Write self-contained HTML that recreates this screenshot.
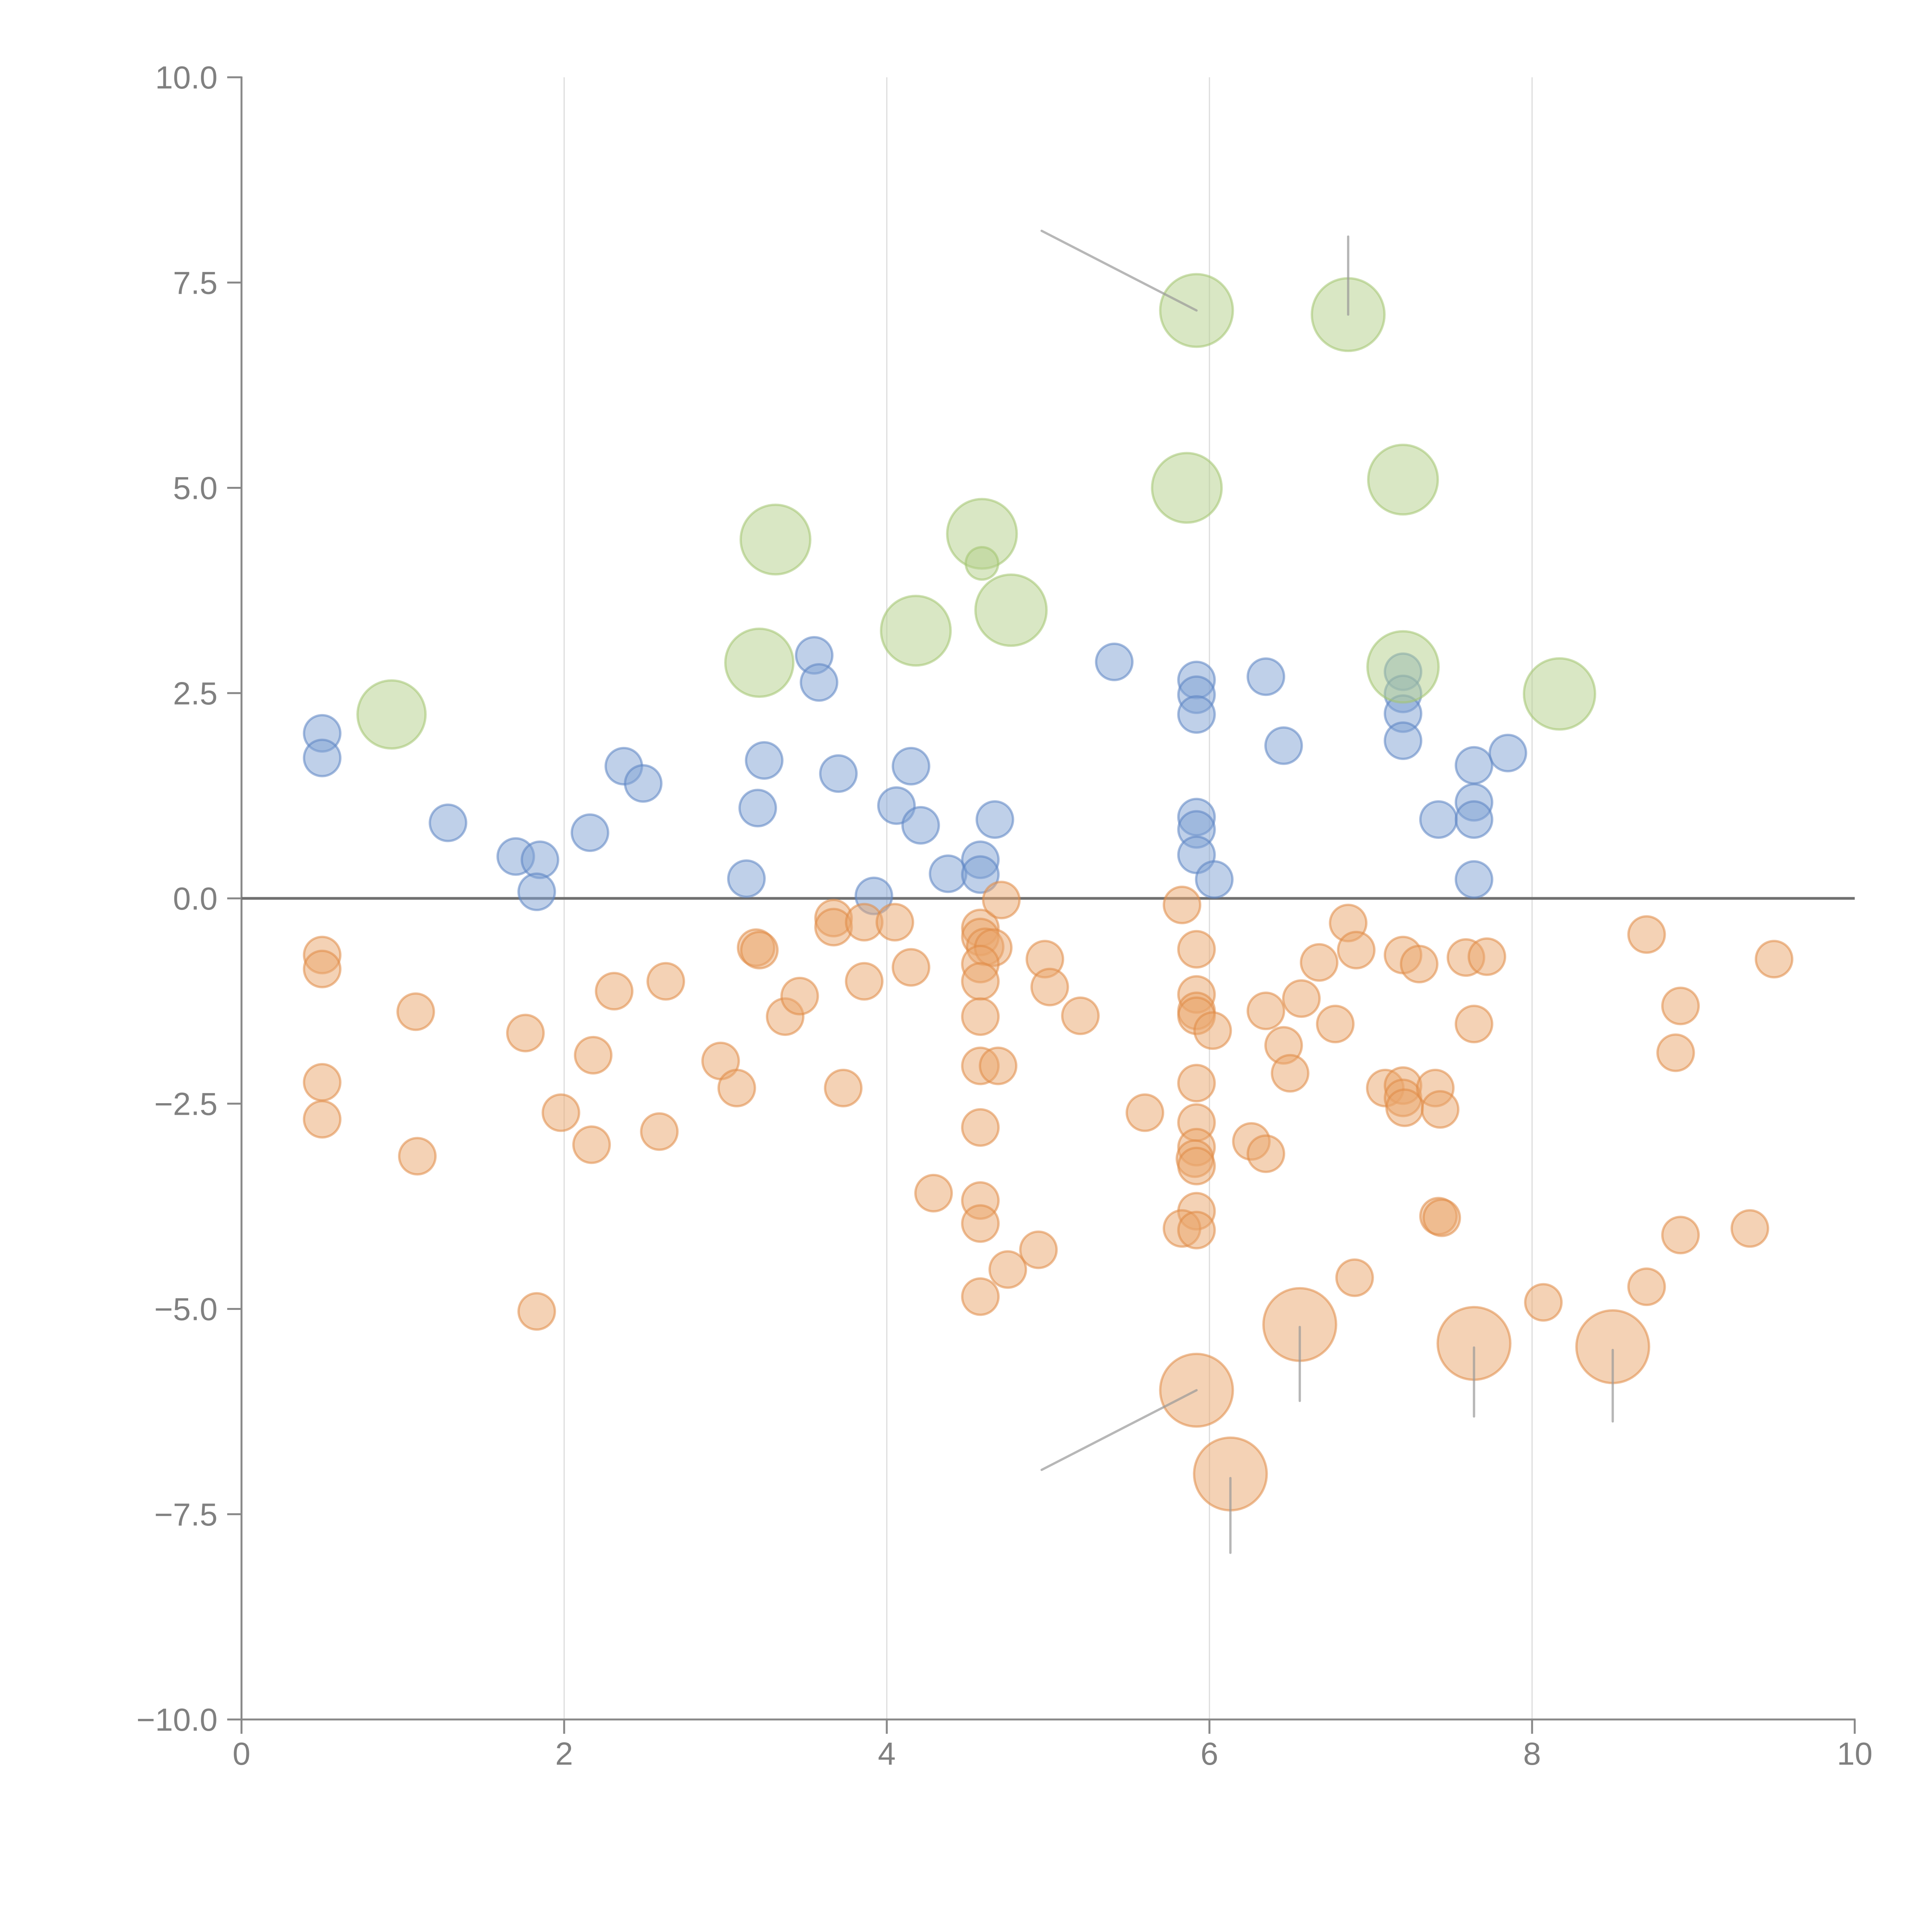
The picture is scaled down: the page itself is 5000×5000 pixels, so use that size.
<!DOCTYPE html>
<html><head><meta charset="utf-8"><style>html,body{margin:0;padding:0;background:#fff}svg{display:block}</style></head>
<body>
<svg id="chart" width="5000" height="5000" viewBox="0 0 5000 5000" xmlns="http://www.w3.org/2000/svg">
<rect width="5000" height="5000" fill="#fff"/>
<g id="grid"></g>
<g id="axes"></g>
<g id="marks"></g>
</svg>
<script>
const xTicks = [0, 2, 4, 6, 8, 10];
const yTicks = [10, 7.5, 5, 2.5, 0, -2.5, -5, -7.5, -10];
const yTickLabels = ["10.0", "7.5", "5.0", "2.5", "0.0", "\u22122.5", "\u22125.0", "\u22127.5", "\u221210.0"];

const greenX = [0.93, 3.21, 3.31, 4.18, 4.59, 4.59, 4.77, 5.92, 6.86, 5.86, 7.20, 7.20, 8.17];
const greenY = [2.24, 2.87, 4.37, 3.26, 4.44, 4.08, 3.51, 7.16, 7.11, 5.00, 5.10, 2.82, 2.49];
const greenR = [88, 88, 90, 90, 90, 42, 92, 94, 94, 90, 90, 92, 92];

const blueX = [0.50,0.50,1.28,1.70,1.85,1.83,2.16,2.37,2.49,3.13,3.20,3.24,3.55,3.58,3.70,3.92,4.06,4.15,4.21,4.38,4.58,4.58,4.67,5.41,5.92,5.92,5.92,5.92,5.92,5.92,6.03,6.35,6.46,7.20,7.20,7.20,7.20,7.42,7.64,7.64,7.64,7.64,7.85];
const blueY = [2.01,1.71,0.92,0.51,0.47,0.08,0.80,1.61,1.40,0.24,1.10,1.68,2.96,2.63,1.52,0.03,1.13,1.61,0.89,0.30,0.47,0.29,0.96,2.88,2.66,2.48,2.24,0.99,0.84,0.53,0.23,2.70,1.86,2.76,2.49,2.25,1.92,0.96,1.62,1.17,0.96,0.23,1.77];

const orangeX = [0.50,0.50,0.50,0.50,1.08,1.09,1.76,1.83,1.98,2.18,2.17,2.31,2.59,2.63,2.97,3.07,3.19,3.21,3.37,3.46,3.67,3.67,3.73,3.86,3.86,4.05,4.15,4.29,4.58,4.58,4.61,4.66,4.58,4.58,4.58,4.58,4.69,4.58,4.58,4.58,4.58,4.71,4.75,4.94,4.98,5.01,5.20,5.60,5.83,5.92,5.92,5.92,5.92,6.02,5.92,5.92,5.92,5.91,5.92,5.92,5.83,5.92,6.26,6.35,6.35,6.46,6.50,6.57,6.68,6.78,6.86,6.91,6.90,7.09,7.20,7.30,7.20,7.20,7.21,7.40,7.43,7.42,7.44,7.59,7.72,7.64,8.07,8.71,8.71,8.92,8.89,8.92,9.35,9.50];
const orangeY = [-0.69,-0.86,-2.24,-2.69,-1.38,-3.14,-1.64,-5.03,-2.61,-1.91,-3.00,-1.13,-2.84,-1.01,-1.98,-2.31,-0.60,-0.63,-1.44,-1.19,-0.24,-0.35,-2.31,-0.29,-1.01,-0.29,-0.84,-3.59,-0.36,-0.47,-0.59,-0.60,-0.80,-1.01,-1.44,-2.04,-2.04,-2.79,-3.68,-3.96,-4.85,-0.02,-4.52,-4.28,-0.74,-1.08,-1.43,-2.61,-0.08,-0.62,-1.17,-1.37,-1.43,-1.61,-2.25,-2.73,-3.03,-3.17,-3.26,-3.81,-4.02,-4.04,-2.96,-1.37,-3.11,-1.79,-2.13,-1.22,-0.78,-1.53,-0.30,-0.63,-4.62,-2.31,-0.69,-0.80,-2.28,-2.43,-2.55,-2.31,-2.57,-3.87,-3.89,-0.72,-0.71,-1.53,-4.92,-0.44,-4.73,-1.31,-1.88,-4.10,-4.02,-0.74];

const bigOrangeX = [6.56, 5.92, 6.13, 7.64, 8.50];
const bigOrangeY = [-5.19, -5.99, -7.01, -5.42, -5.46];

const leaderX1 = [5.92, 6.86, 5.92, 6.56, 6.13, 7.64, 8.50];
const leaderY1 = [7.16, 7.11, -5.99, -5.22, -7.06, -5.47, -5.50];
const leaderX2 = [4.96, 6.86, 4.96, 6.56, 6.13, 7.64, 8.50];
const leaderY2 = [8.13, 8.06, -6.96, -6.12, -7.97, -6.31, -6.37];

const X0 = 625, X1 = 4800, Y0 = 4450, Y1 = 200;
function sx(v){ return X0 + (v - 0) / 10 * (X1 - X0); }
function sy(v){ return Y0 - (v + 10) / 20 * (Y0 - Y1); }
const NS = "http://www.w3.org/2000/svg";
function mk(tag, parent, attrs){ const e = document.createElementNS(NS, tag); for (const k in attrs) e.setAttribute(k, attrs[k]); parent.appendChild(e); return e; }

const grid = document.getElementById('grid');
xTicks.forEach(function(t){
  if (t === 0 || t === 10) return;
  const l = mk('line', grid, {x1: sx(t), x2: sx(t), y1: Y1, y2: Y0, stroke: '#dcdcdc', 'stroke-width': 3});
  
  
});

const axes = document.getElementById('axes');
const ya = mk('line', axes, {x1: X0, x2: X0, y1: Y1 - 2, y2: Y0, stroke: '#888', 'stroke-width': 5});


const xa = mk('line', axes, {x1: X0, x2: X1 + 2, y1: Y0, y2: Y0, stroke: '#888', 'stroke-width': 5});


const zl = mk('line', axes, {x1: X0, x2: X1, y1: sy(0), y2: sy(0), stroke: '#707070', 'stroke-width': 7});



yTicks.forEach(function(t, i){
  const tk = mk('line', axes, {x1: X0 - 37, x2: X0, y1: sy(t), y2: sy(t), stroke: '#888', 'stroke-width': 5});
  
  
  const tx = mk('text', axes, {x: X0 - 62, y: sy(t), dy: '0.35em', 'text-anchor': 'end', 'font-family': 'Liberation Sans, sans-serif', 'font-size': 83, fill: '#808080'});
  tx.textContent = yTickLabels[i];
  
  
});
xTicks.forEach(function(t){
  const tk = mk('line', axes, {x1: sx(t), x2: sx(t), y1: Y0, y2: Y0 + 37, stroke: '#888', 'stroke-width': 5});
  
  
  const tx = mk('text', axes, {x: sx(t), y: Y0 + 88, dy: '0.35em', 'text-anchor': 'middle', 'font-family': 'Liberation Sans, sans-serif', 'font-size': 83, fill: '#808080'});
  tx.textContent = String(t);
  
  
});

const marks = document.getElementById('marks');
function drawSeries(xs, ys, rs, fill, stroke, name){
  xs.forEach(function(x, i){
    const r = Array.isArray(rs) ? rs[i] : rs;
    const c = mk('circle', marks, {cx: sx(x), cy: sy(ys[i]), r: r, fill: fill, 'fill-opacity': 0.5, stroke: stroke, 'stroke-opacity': 0.55, 'stroke-width': 6});
    
    
  });
}
drawSeries(blueX, blueY, 47, '#7fa1d3', '#5b84c2', 'blue-bubble');
drawSeries(orangeX, orangeY, 47, '#e9a56c', '#e08a45', 'orange-bubble');
drawSeries(bigOrangeX, bigOrangeY, 94, '#e9a56c', '#e08a45', 'large-orange-bubble');
drawSeries(greenX, greenY, greenR, '#b4cf8a', '#a2c46f', 'green-bubble');

leaderX1.forEach(function(x, i){
  const l = mk('line', document.getElementById('chart'), {x1: sx(x), y1: sy(leaderY1[i]), x2: sx(leaderX2[i]), y2: sy(leaderY2[i]), stroke: '#999', 'stroke-opacity': 0.7, 'stroke-width': 6, 'stroke-linecap': 'round'});
  
  
});
</script>
</body></html>
